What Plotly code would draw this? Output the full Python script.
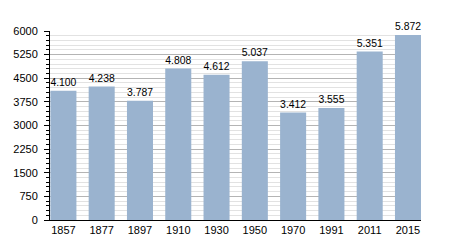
import plotly.graph_objects as go

years = ["1857", "1877", "1897", "1910", "1930", "1950", "1970", "1991", "2011", "2015"]
population = [4100, 4238, 3787, 4808, 4612, 5037, 3412, 3555, 5351, 5872]
y_ticks = [0, 750, 1500, 2250, 3000, 3750, 4500, 5250, 6000]

fig = go.Figure(go.Bar(
    x=years, y=population,
    marker=dict(color="#9ab3cf", line=dict(width=0)),
    width=0.68,
    texttemplate="%{y:,}", textposition="outside",
    textfont=dict(family="Liberation Sans, Arial, sans-serif", size=11, color="#000"),
    cliponaxis=False,
))

fig.update_layout(
    width=450, height=250,
    margin=dict(l=50, r=29, t=31, b=30),
    paper_bgcolor="white", plot_bgcolor="white",
    separators=",.",
    showlegend=False,
    bargap=0.32,
    font=dict(family="Liberation Sans, Arial, sans-serif", size=11, color="#000"),
)
fig.update_xaxes(
    type="category", range=[-0.35, 9.34],
    showline=True, linecolor="#000", linewidth=1,
    ticks="", showgrid=False,
    tickfont=dict(size=11),
)
fig.update_yaxes(
    range=[0, 6000], tickvals=y_ticks, tickformat="d",
    showline=True, linecolor="#000", linewidth=1,
    ticks="outside", ticklen=5, tickcolor="#000",
    showgrid=True, gridcolor="#b4b4b4", gridwidth=1,
    zeroline=False, ticklabelstandoff=4,
    minor=dict(dtick=150, tick0=0, showgrid=True, gridcolor="#e2e2e2", gridwidth=1,
               ticks="outside", ticklen=3, tickcolor="#000"),
    tickfont=dict(size=11),
)

fig.write_html("out.html")
